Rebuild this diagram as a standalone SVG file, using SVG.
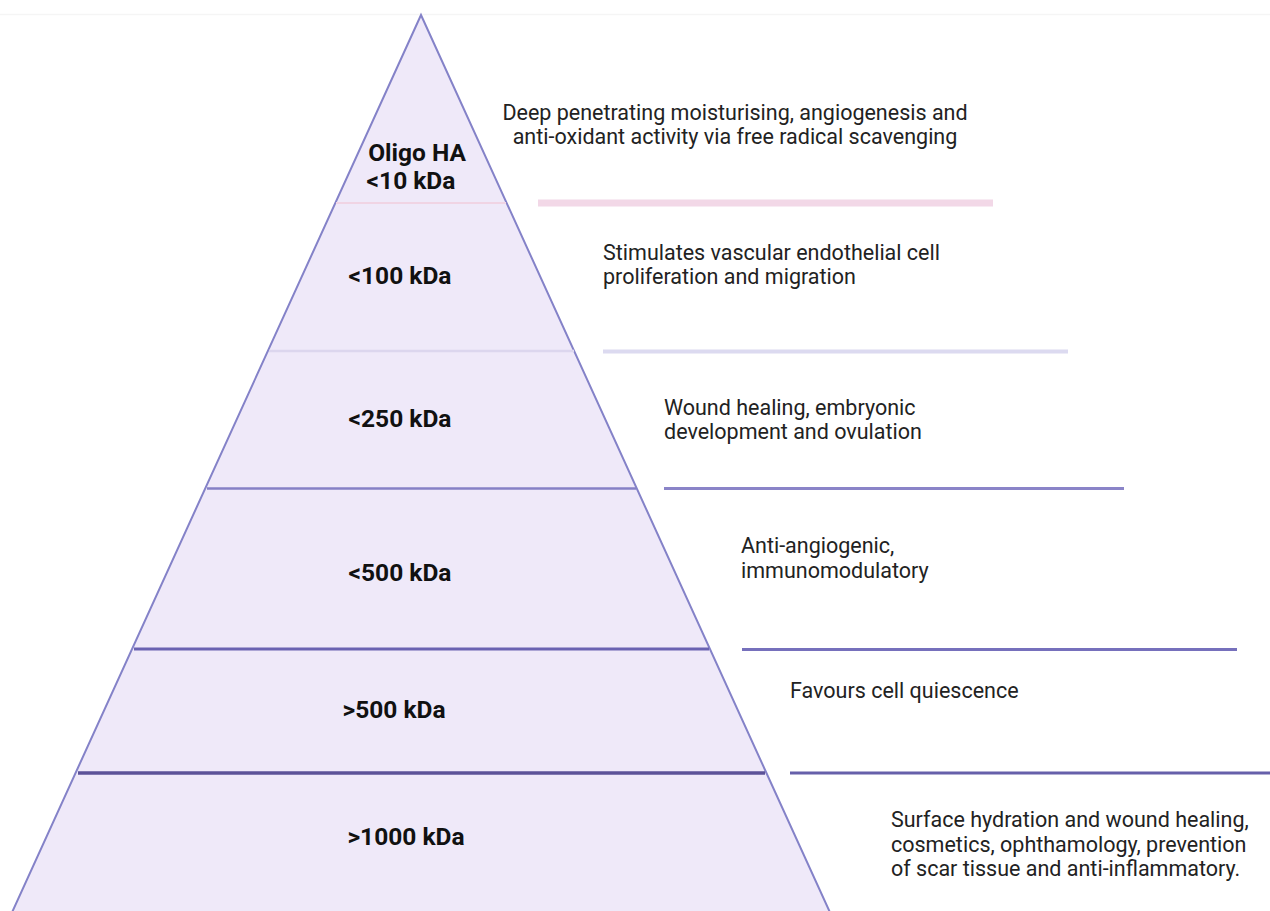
<svg xmlns="http://www.w3.org/2000/svg" width="1270" height="911" viewBox="0 0 1270 911">
<style>
.lbl{font-family:Roboto,"Liberation Sans",sans-serif;font-weight:bold;font-size:24.5px;fill:#111;text-anchor:middle}
.desc{font-family:Roboto,"Liberation Sans",sans-serif;font-size:21.5px;fill:#222}
.edge{fill:#efe9f9;stroke:#8482c8;stroke-width:2}
</style>
<rect width="1270" height="911" fill="#fff"/>
<line x1="0" y1="14.5" x2="1270" y2="14.5" stroke="#f5f5f5" stroke-width="1.5"/>
<g id="pyramid">
<polygon class="edge" points="421,15 838,930 4,930"/>
</g>
<g id="dividers">
<line x1="336" y1="203" x2="506" y2="203" stroke="#f0d4e4" stroke-width="2"/>
<line x1="269" y1="351" x2="574" y2="351" stroke="#dcd6ee" stroke-width="2.5"/>
<line x1="207" y1="488.5" x2="636" y2="488.5" stroke="#8680c6" stroke-width="2.5"/>
<line x1="134" y1="649" x2="709" y2="649" stroke="#6a62b2" stroke-width="3"/>
<line x1="78" y1="773" x2="765" y2="773" stroke="#5c5298" stroke-width="3.5"/>
</g>
<g id="connectors">
<line x1="538" y1="203" x2="993" y2="203" stroke="#f2d8e7" stroke-width="7"/>
<line x1="603" y1="351.5" x2="1068" y2="351.5" stroke="#dcdaf0" stroke-width="4"/>
<line x1="664" y1="488.5" x2="1124" y2="488.5" stroke="#8a84c8" stroke-width="3"/>
<line x1="742" y1="649.5" x2="1237" y2="649.5" stroke="#7670bc" stroke-width="3"/>
<line x1="790" y1="773" x2="1270" y2="773" stroke="#6660aa" stroke-width="3"/>
</g>
<g id="node-oligo">
<text class="lbl" x="417" y="161">Oligo HA</text>
<text class="lbl" x="411" y="189">&lt;10 kDa</text>
<text class="desc" text-anchor="middle" x="735" y="120">Deep penetrating moisturising, angiogenesis and</text>
<text class="desc" text-anchor="middle" x="735" y="144">anti-oxidant activity via free radical scavenging</text>
</g>
<g id="node-100">
<text class="lbl" x="400" y="284">&lt;100 kDa</text>
<text class="desc" x="603" y="260">Stimulates vascular endothelial cell</text>
<text class="desc" x="603" y="284">proliferation and migration</text>
</g>
<g id="node-250">
<text class="lbl" x="400" y="427">&lt;250 kDa</text>
<text class="desc" x="664" y="415">Wound healing, embryonic</text>
<text class="desc" x="664" y="439">development and ovulation</text>
</g>
<g id="node-500a">
<text class="lbl" x="400" y="581">&lt;500 kDa</text>
<text class="desc" x="741" y="553">Anti-angiogenic,</text>
<text class="desc" x="741" y="578">immunomodulatory</text>
</g>
<g id="node-500b">
<text class="lbl" x="394" y="718">&gt;500 kDa</text>
<text class="desc" x="790" y="698">Favours cell quiescence</text>
</g>
<g id="node-1000">
<text class="lbl" x="406" y="845">&gt;1000 kDa</text>
<text class="desc" x="891" y="827">Surface hydration and wound healing,</text>
<text class="desc" x="891" y="852">cosmetics, ophthamology, prevention</text>
<text class="desc" x="891" y="876">of scar tissue and anti-inflammatory.</text>
</g>
</svg>
